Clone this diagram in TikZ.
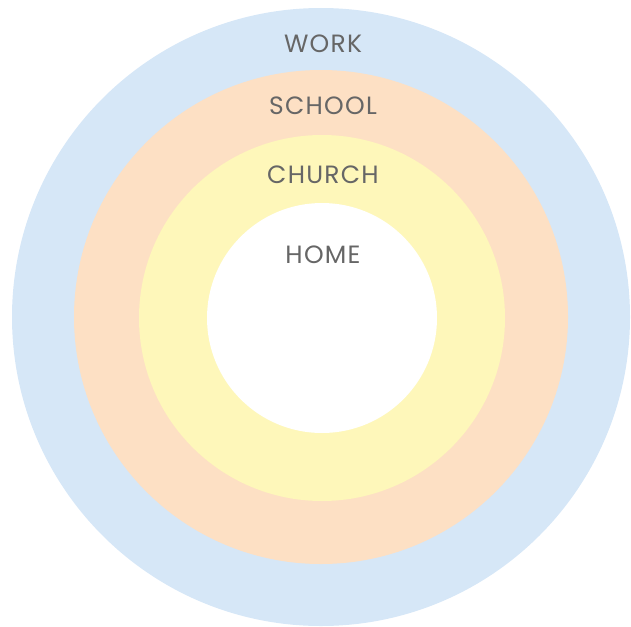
\documentclass[tikz,border=0pt]{standalone}
\usepackage{fontspec}
\setmainfont{Poppins}[LetterSpace=5]
\definecolor{workblue}{HTML}{D6E7F7}
\definecolor{schoolorange}{HTML}{FDE0C4}
\definecolor{churchyellow}{HTML}{FEF7BA}
\definecolor{labelgray}{HTML}{666666}
\begin{document}
\begin{tikzpicture}[x=1pt,y=-1pt,
  ring/.style={circle,inner sep=0pt,draw=none},
  lbl/.style={text=labelgray,font=\fontsize{25}{28}\selectfont,inner sep=0pt,anchor=center}]
\useasboundingbox (0,0) rectangle (631,626);
\node[ring,fill=workblue,minimum size=618pt] (work) at (321,317) {};
\node[ring,fill=schoolorange,minimum size=494pt] (school) at (321,317) {};
\node[ring,fill=churchyellow,minimum size=366pt] (church) at (322,318) {};
\node[ring,fill=white,minimum size=230pt] (home) at (322,318) {};
\node[lbl] (tw) at (323,44) {WORK};
\node[lbl] (ts) at (323,106) {SCHOOL};
\node[lbl] (tc) at (323,175) {CHURCH};
\node[lbl] (th) at (323,255) {HOME};
\end{tikzpicture}
\end{document}
